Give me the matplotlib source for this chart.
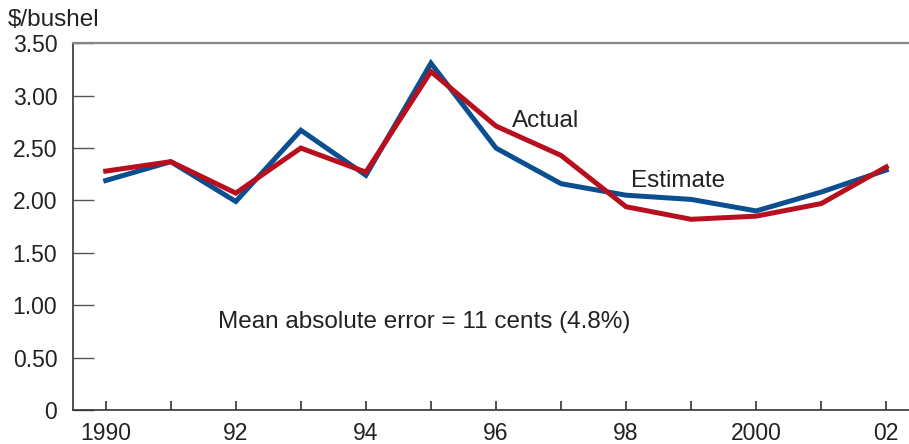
import numpy as np
import matplotlib.pyplot as plt

plt.rcParams['font.family'] = ['Liberation Sans', 'DejaVu Sans']

years = np.arange(1990, 2003)
estimate = [2.19, 2.37, 1.99, 2.67, 2.24, 3.31, 2.50, 2.16, 2.05, 2.01, 1.90, 2.08, 2.29]
actual = [2.28, 2.37, 2.07, 2.50, 2.27, 3.23, 2.71, 2.43, 1.94, 1.82, 1.85, 1.97, 2.32]

xtick_labels = ['1990', '', '92', '', '94', '', '96', '', '98', '', '2000', '', '02']
yticks = [0, 0.5, 1.0, 1.5, 2.0, 2.5, 3.0, 3.5]
ytick_labels = ['0', '0.50', '1.00', '1.50', '2.00', '2.50', '3.00', '3.50']

fig = plt.figure(figsize=(9.09, 4.44), dpi=100)
ax = fig.add_axes([0.0798, 0.0766, 0.9202, 0.8259])

blue = '#0b4f90'
red = '#b80f1f'
ax.plot(years, estimate, color=blue, lw=3.6, solid_joinstyle='miter')
ax.plot(years, actual, color=red, lw=3.6, solid_joinstyle='miter')

ax.set_xlim(1989.49, 2002.35)
ax.set_ylim(0, 3.5)

ax.set_xticks(years)
ax.set_xticklabels(xtick_labels, fontsize=16.5, color='#222222')
ax.set_yticks(yticks)
ax.set_yticklabels(ytick_labels, fontsize=16.5, color='#222222')

ax.tick_params(axis='x', direction='in', length=6.5, width=1.2, color='#333333', pad=9)
ax.tick_params(axis='y', direction='in', length=15, width=1.0, color='#555555', pad=11)

ax.spines['right'].set_visible(False)
ax.spines['top'].set_color('#888888')
ax.spines['top'].set_linewidth(1.6)
ax.spines['left'].set_color('#333333')
ax.spines['left'].set_linewidth(1.2)
ax.spines['bottom'].set_color('#333333')
ax.spines['bottom'].set_linewidth(1.2)

ax.text(1996.24, 2.76, 'Actual', fontsize=17.5, color='#222222', va='center')
ax.text(1998.08, 2.19, 'Estimate', fontsize=17.5, color='#222222', va='center')
ax.text(1991.73, 0.84, 'Mean absolute error = 11 cents (4.8%)', fontsize=17.5,
        color='#222222', va='center')

fig.text(8/909, 1 - 20/444, '$/bushel', fontsize=17.5, color='#222222', va='center')

fig.savefig('out.png', dpi=100)
